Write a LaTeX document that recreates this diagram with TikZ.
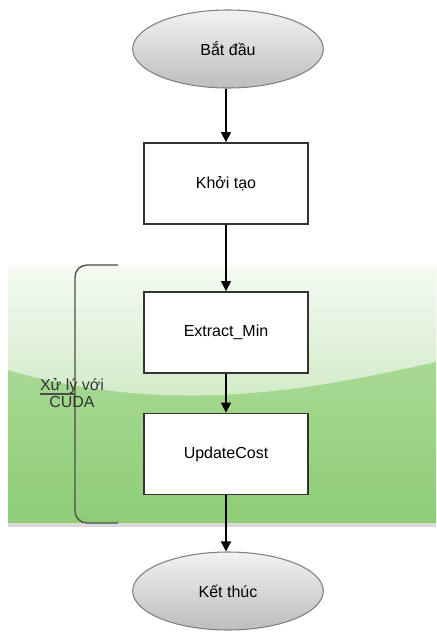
\documentclass[tikz,border=0pt]{standalone}
\usepackage{fontspec}
\setmainfont{Liberation Sans}
\usetikzlibrary{shapes.geometric,arrows.meta}
\definecolor{bandtop}{HTML}{F5FAF3}
\definecolor{bandmid}{HTML}{CDE9C1}
\definecolor{bandlow}{HTML}{B8E0A6}
\definecolor{bandbot}{HTML}{8ECD76}
\definecolor{ovtop}{HTML}{F2F2F2}
\definecolor{ovbot}{HTML}{BDBDBD}
\definecolor{edge}{HTML}{333333}
\tikzset{
  px/.style={x=0.75pt,y=-0.75pt},
  oval/.style={ellipse, draw=black!50, line width=0.8pt, top color=ovtop, bottom color=ovbot,
    minimum width=143pt, minimum height=58.5pt, inner sep=0pt, font=\fontsize{12}{14}\selectfont},
  box/.style={rectangle, draw=edge, line width=1.1pt, fill=white,
    minimum width=123pt, minimum height=61pt, inner sep=0pt, font=\fontsize{12}{14}\selectfont},
  flow/.style={draw=black, line width=1.1pt, -{Triangle[length=7.5pt,width=7.5pt]}},
  brk/.style={draw=black!70, line width=1pt, rounded corners=9pt},
  lbl/.style={font=\fontsize{12}{13.5}\selectfont, text=black!80, align=center, inner sep=0pt}
}
\begin{document}
\begin{tikzpicture}[px]
\useasboundingbox (0,0) rectangle (436,639);
\fill[white] (0,0) rectangle (436,639);
% green band
\fill[black!15] (8,522) rectangle (436,527);
\shade[top color=bandlow, bottom color=bandbot] (8,265) rectangle (436,522);
\shade[top color=bandtop, bottom color=bandmid]
  (8,265) -- (436,265) -- (436,362) .. controls (330,385) and (180,420) .. (8,370) -- cycle;
% nodes
\node[oval] (start) at (228,49) {Bắt đầu};
\node[box] (init) at (226,183.5) {Khởi tạo};
\node[box] (extract) at (226,332.5) {Extract\_Min};
\node[box] (update) at (226,454) {UpdateCost};
\node[oval] (stop) at (228,591) {Kết thúc};
% connectors
\draw[flow] (init.north |- start.south) -- (init.north);
\draw[flow] (init.south) -- (extract.north);
\draw[flow] (extract.south) -- (update.north);
\draw[flow] (update.south) -- (update.south |- stop.north);
% bracket
\coordinate (bt) at (118,265);
\coordinate (bb) at (118,523);
\coordinate (bm) at (75,394);
\coordinate (tip) at (40,394);
\draw[brk] (bt) -- (75,265) -- (75,523) -- (bb);
\draw[draw=black!70, line width=1pt] (bm) -- (tip);
\node[lbl] (cuda) at (72,393) {Xử lý với\\[-1pt]CUDA};
\end{tikzpicture}
\end{document}
